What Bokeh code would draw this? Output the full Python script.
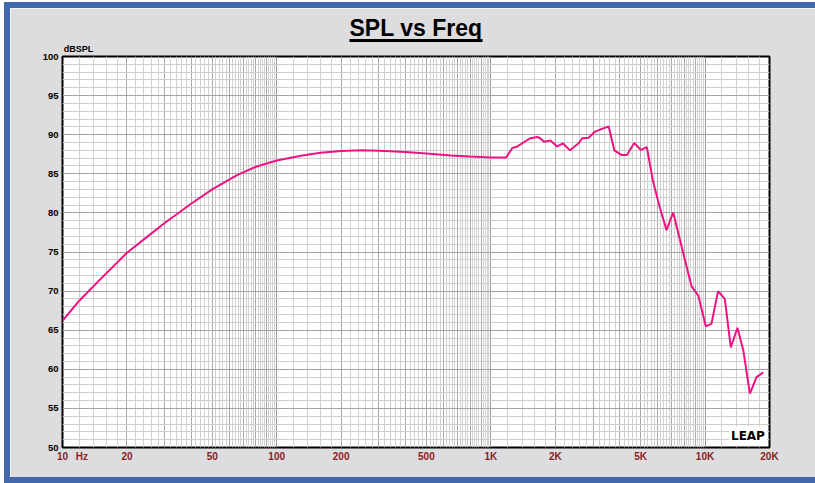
import numpy as np
from bokeh.plotting import figure
from bokeh.models import (FixedTicker, Grid, Label, LogAxis,
                          CustomJSTickFormatter)
from bokeh.embed import file_html
from bokeh.resources import INLINE

# ---- data ----
freq_hz = [10, 12, 15, 20, 25, 30, 40, 50, 65, 80, 100, 130, 160, 200, 250,
           300, 400, 500, 650, 800, 1000, 1180, 1260, 1330, 1420, 1530, 1650,
           1700, 1770, 1900, 2040, 2170, 2340, 2570, 2670, 2860, 3070, 3300,
           3550, 3770, 4090, 4320, 4670, 5020, 5350, 5710, 6150, 6610, 7100,
           7920, 8660, 9310, 10080, 10710, 11510, 12370, 13190, 14170, 15100,
           16200, 17400, 18700]
spl_db = [66.2, 68.8, 71.5, 74.9, 77.0, 78.7, 81.2, 83.0, 84.8, 85.9, 86.7,
          87.3, 87.7, 87.9, 88.0, 87.95, 87.8, 87.6, 87.35, 87.2, 87.1, 87.1,
          88.3, 88.5, 89.0, 89.55, 89.7, 89.55, 89.1, 89.25, 88.5, 88.9, 88.0,
          88.9, 89.55, 89.6, 90.4, 90.75, 91.05, 88.0, 87.4, 87.4, 88.95,
          88.05, 88.4, 84.1, 80.7, 77.8, 80.05, 74.8, 70.6, 69.4, 65.5, 65.8,
          70.0, 69.0, 62.8, 65.3, 62.4, 56.9, 59.0, 59.6]

x_tick_values = [10, 20, 50, 100, 200, 500, 1000, 2000, 5000, 10000, 20000]
x_tick_labels = ["10", "20", "50", "100", "200", "500", "1K", "2K", "5K",
                 "10K", "20K"]
y_tick_values = [50, 55, 60, 65, 70, 75, 80, 85, 90, 95, 100]

title_text = "SPL vs Freq"
y_unit_text = "dBSPL"
x_unit_text = "Hz"

# where the unit texts and the title underline sit (in axis units)
HZ_POS = 12.33
DBSPL_POS = 11.88
UNDERLINE_BOUNDS = (218.6, 913.7)

# ---- grid positions (log grid, 2-unit steps within each decade) ----
grid_light, grid_mid, grid_dark = [], [], []
for dec in [10, 100, 1000, 10000]:
    for k in range(10, 100, 2):
        f = dec * k / 10.0
        if f > 20000:
            continue
        if k == 10:
            grid_dark.append(f)
        elif k % 10 == 0:
            grid_mid.append(f)
        else:
            grid_light.append(f)
grid_mid.append(20000)
db_light = [v for v in range(50, 101) if v % 5 != 0]
db_mid = [v for v in range(50, 101) if v % 5 == 0]

BG = "#dddcdf"
BLUE = "#4368ab"
FONT = "Liberation Sans"
RED = "#8b1c1c"

p = figure(width=805, height=469, x_axis_type="log",
           x_range=(10, 20000), y_range=(50, 100), title=None,
           output_backend="svg", toolbar_location=None,
           min_border_left=52, min_border_right=46,
           min_border_top=48, min_border_bottom=30)
shadow = ", ".join("%dpx %dpx 0 0 %s" % (dx, dy, BLUE)
                   for dx, dy in [(-6, 0), (0, -6), (0, 6), (-6, -6), (-6, 6)])
p.styles = {"margin-left": "10px", "margin-top": "8px",
            "vertical-align": "top", "box-shadow": shadow}
p.border_fill_color = BG
p.background_fill_color = "white"
p.outline_line_color = "black"
p.outline_line_width = 2

p.xgrid.grid_line_color = None
p.ygrid.grid_line_color = None

for ticks, col in [(grid_light, "#d2d2d2"), (grid_mid, "#ababab"),
                   (grid_dark, "#9a9a9a")]:
    p.add_layout(Grid(dimension=0, ticker=FixedTicker(ticks=ticks),
                      grid_line_color=col, grid_line_width=1))
for ticks, col in [(db_light, "#cdcdcd"), (db_mid, "#a4a4a4")]:
    p.add_layout(Grid(dimension=1, ticker=FixedTicker(ticks=ticks),
                      grid_line_color=col, grid_line_width=1))


def plain(ax):
    ax.axis_line_color = None
    ax.major_tick_line_color = None
    ax.minor_tick_line_color = None
    ax.major_tick_out = 0
    ax.major_tick_in = 0
    ax.minor_tick_out = 0
    ax.minor_tick_in = 0
    ax.major_label_text_font = FONT
    ax.major_label_text_font_style = "bold"


plain(p.xaxis[0])
plain(p.yaxis[0])

lab_ticks = x_tick_values + [HZ_POS]
lab_texts = x_tick_labels + [x_unit_text]
p.xaxis.ticker = FixedTicker(ticks=lab_ticks)
p.xaxis.formatter = CustomJSTickFormatter(
    args=dict(vals=lab_ticks, labs=lab_texts),
    code="const i = vals.findIndex(v => Math.abs(v - tick) < 1e-6 * v);"
         "return i >= 0 ? labs[i] : '';")
p.xaxis.major_label_text_color = RED
p.xaxis.major_label_text_font_size = "10px"
p.xaxis.major_label_standoff = 3

p.yaxis.ticker = FixedTicker(ticks=y_tick_values)
p.yaxis.major_label_text_color = "black"
p.yaxis.major_label_text_font_size = "9.5px"
p.yaxis.major_label_standoff = 4

# axis above: the "dBSPL" unit text
ax_unit = LogAxis(ticker=FixedTicker(ticks=[DBSPL_POS]),
                  formatter=CustomJSTickFormatter(args=dict(t=y_unit_text),
                                                  code="return t;"))
plain(ax_unit)
ax_unit.major_label_text_font_size = "9px"
ax_unit.major_label_text_color = "black"
ax_unit.major_label_standoff = 3
p.add_layout(ax_unit, "above")

# axis above that: title with its underline
ax_title = LogAxis(ticker=FixedTicker(ticks=[]), bounds=UNDERLINE_BOUNDS)
plain(ax_title)
ax_title.axis_line_color = "black"
ax_title.axis_line_width = 3
ax_title.axis_label = title_text
ax_title.axis_label_text_font = FONT
ax_title.axis_label_text_font_size = "23px"
ax_title.axis_label_text_font_style = "bold"
ax_title.axis_label_text_color = "black"
ax_title.axis_label_standoff = 0
p.add_layout(ax_title, "above")

# curve
p.line(freq_hz, spl_db, line_color="#f01482", line_width=2)

# logo
p.add_layout(Label(x=19450, y=50.35, text="LEAP", text_font="DejaVu Sans",
                   text_font_size="12px", text_font_style="bold",
                   text_color="black", text_baseline="bottom",
                   text_align="right", background_fill_color="white",
                   padding=2))

open("out.html", "w").write(file_html(p, INLINE))
